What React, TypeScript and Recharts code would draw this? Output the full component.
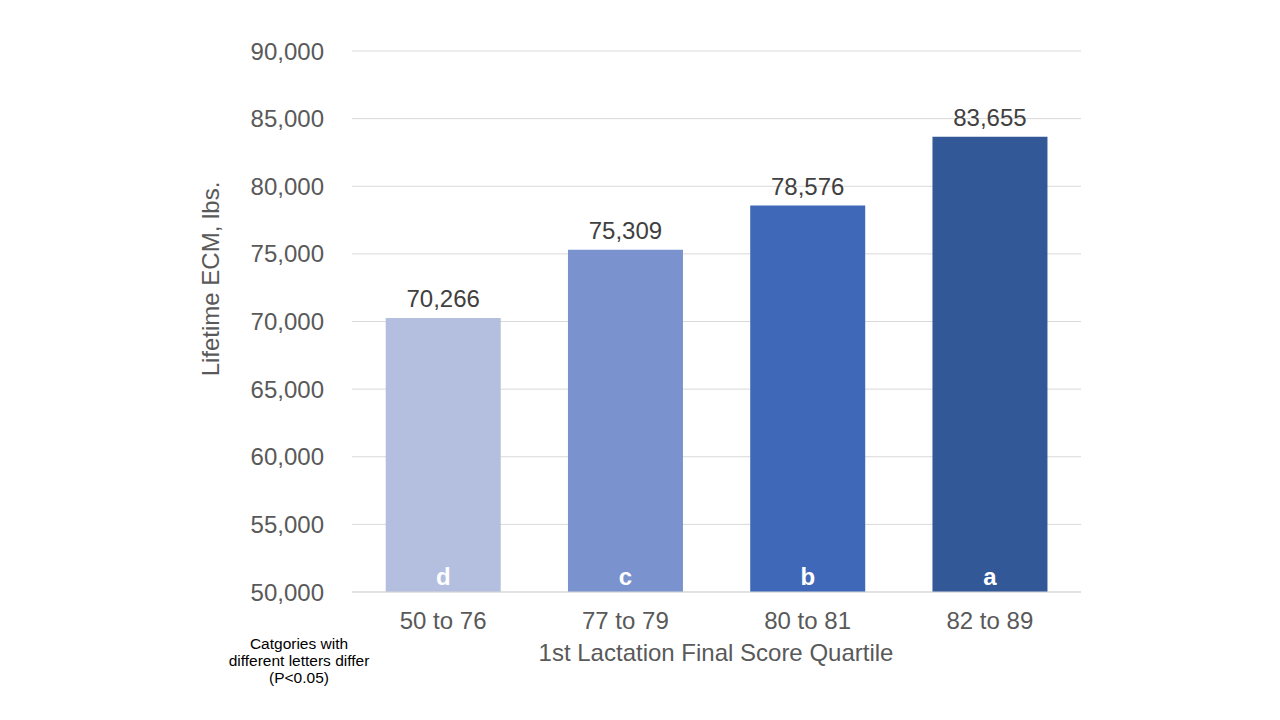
import React from 'react';
import { BarChart, Bar, XAxis, YAxis, CartesianGrid, LabelList, Cell, Label } from 'recharts';

const categories = ['50 to 76', '77 to 79', '80 to 81', '82 to 89'];
const ecmValues = [70266, 75309, 78576, 83655];
const letters = ['d', 'c', 'b', 'a'];
const yTicks = [50000, 55000, 60000, 65000, 70000, 75000, 80000, 85000, 90000];

const BAR_COLORS = ['#B4BEDF', '#7A93CE', '#3F69B8', '#325898'];
const FONT = '"Liberation Sans", Arial, sans-serif';

const data = categories.map((c, i) => ({ cat: c, value: ecmValues[i], letter: letters[i] }));

const fmt = (v: number) => v.toLocaleString('en-US');

export default function App() {
  return (
    <div style={{ position: 'absolute', left: 0, top: 0, width: 1280, height: 720, background: '#fff', fontFamily: FONT }}>
      <BarChart
        width={1280}
        height={720}
        data={data}
        margin={{ top: 51, right: 199, left: 200, bottom: 98 }}
        barCategoryGap="18.5%"
      >
        <CartesianGrid vertical={false} stroke="#D9D9D9" strokeWidth={1} />
        <XAxis
          dataKey="cat"
          axisLine={{ stroke: '#D9D9D9' }}
          tickLine={false}
          tick={{ fill: '#595959', fontSize: 24, fontFamily: FONT }}
          tickMargin={14}
          height={30}
        >
          <Label
            content={() => (
              <text x={716} y={661} textAnchor="middle" fill="#595959" fontSize={24} fontFamily={FONT}>
                1st Lactation Final Score Quartile
              </text>
            )}
          />
        </XAxis>
        <YAxis
          domain={[50000, 90000]}
          ticks={yTicks}
          tickFormatter={fmt}
          axisLine={false}
          tickLine={false}
          width={152}
          tickMargin={22}
          tick={{ fill: '#595959', fontSize: 24, fontFamily: FONT }}
          allowDataOverflow
        >
          <Label
            content={() => (
              <text
                x={219}
                y={279}
                transform="rotate(-90 219 279)"
                textAnchor="middle"
                fill="#595959"
                fontSize={24}
                fontFamily={FONT}
              >
                Lifetime ECM, lbs.
              </text>
            )}
          />
        </YAxis>
        <Bar dataKey="value" isAnimationActive={false}>
          {data.map((d, i) => (
            <Cell key={d.cat} fill={BAR_COLORS[i]} />
          ))}
          <LabelList
            dataKey="value"
            position="top"
            offset={11}
            formatter={(v: any) => fmt(Number(v))}
            fill="#404040"
            fontSize={24}
            fontFamily={FONT}
          />
          <LabelList
            dataKey="letter"
            position="insideBottom"
            offset={7}
            fill="#FFFFFF"
            fontSize={24}
            fontWeight="bold"
            fontFamily={FONT}
          />
        </Bar>
      </BarChart>
      <div
        style={{
          position: 'absolute',
          left: 199,
          top: 635,
          width: 200,
          textAlign: 'center',
          fontSize: 15.5,
          lineHeight: '17px',
          color: '#000',
          fontFamily: FONT,
        }}
      >
        Catgories with
        <br />
        different letters differ
        <br />
        (P&lt;0.05)
      </div>
    </div>
  );
}
